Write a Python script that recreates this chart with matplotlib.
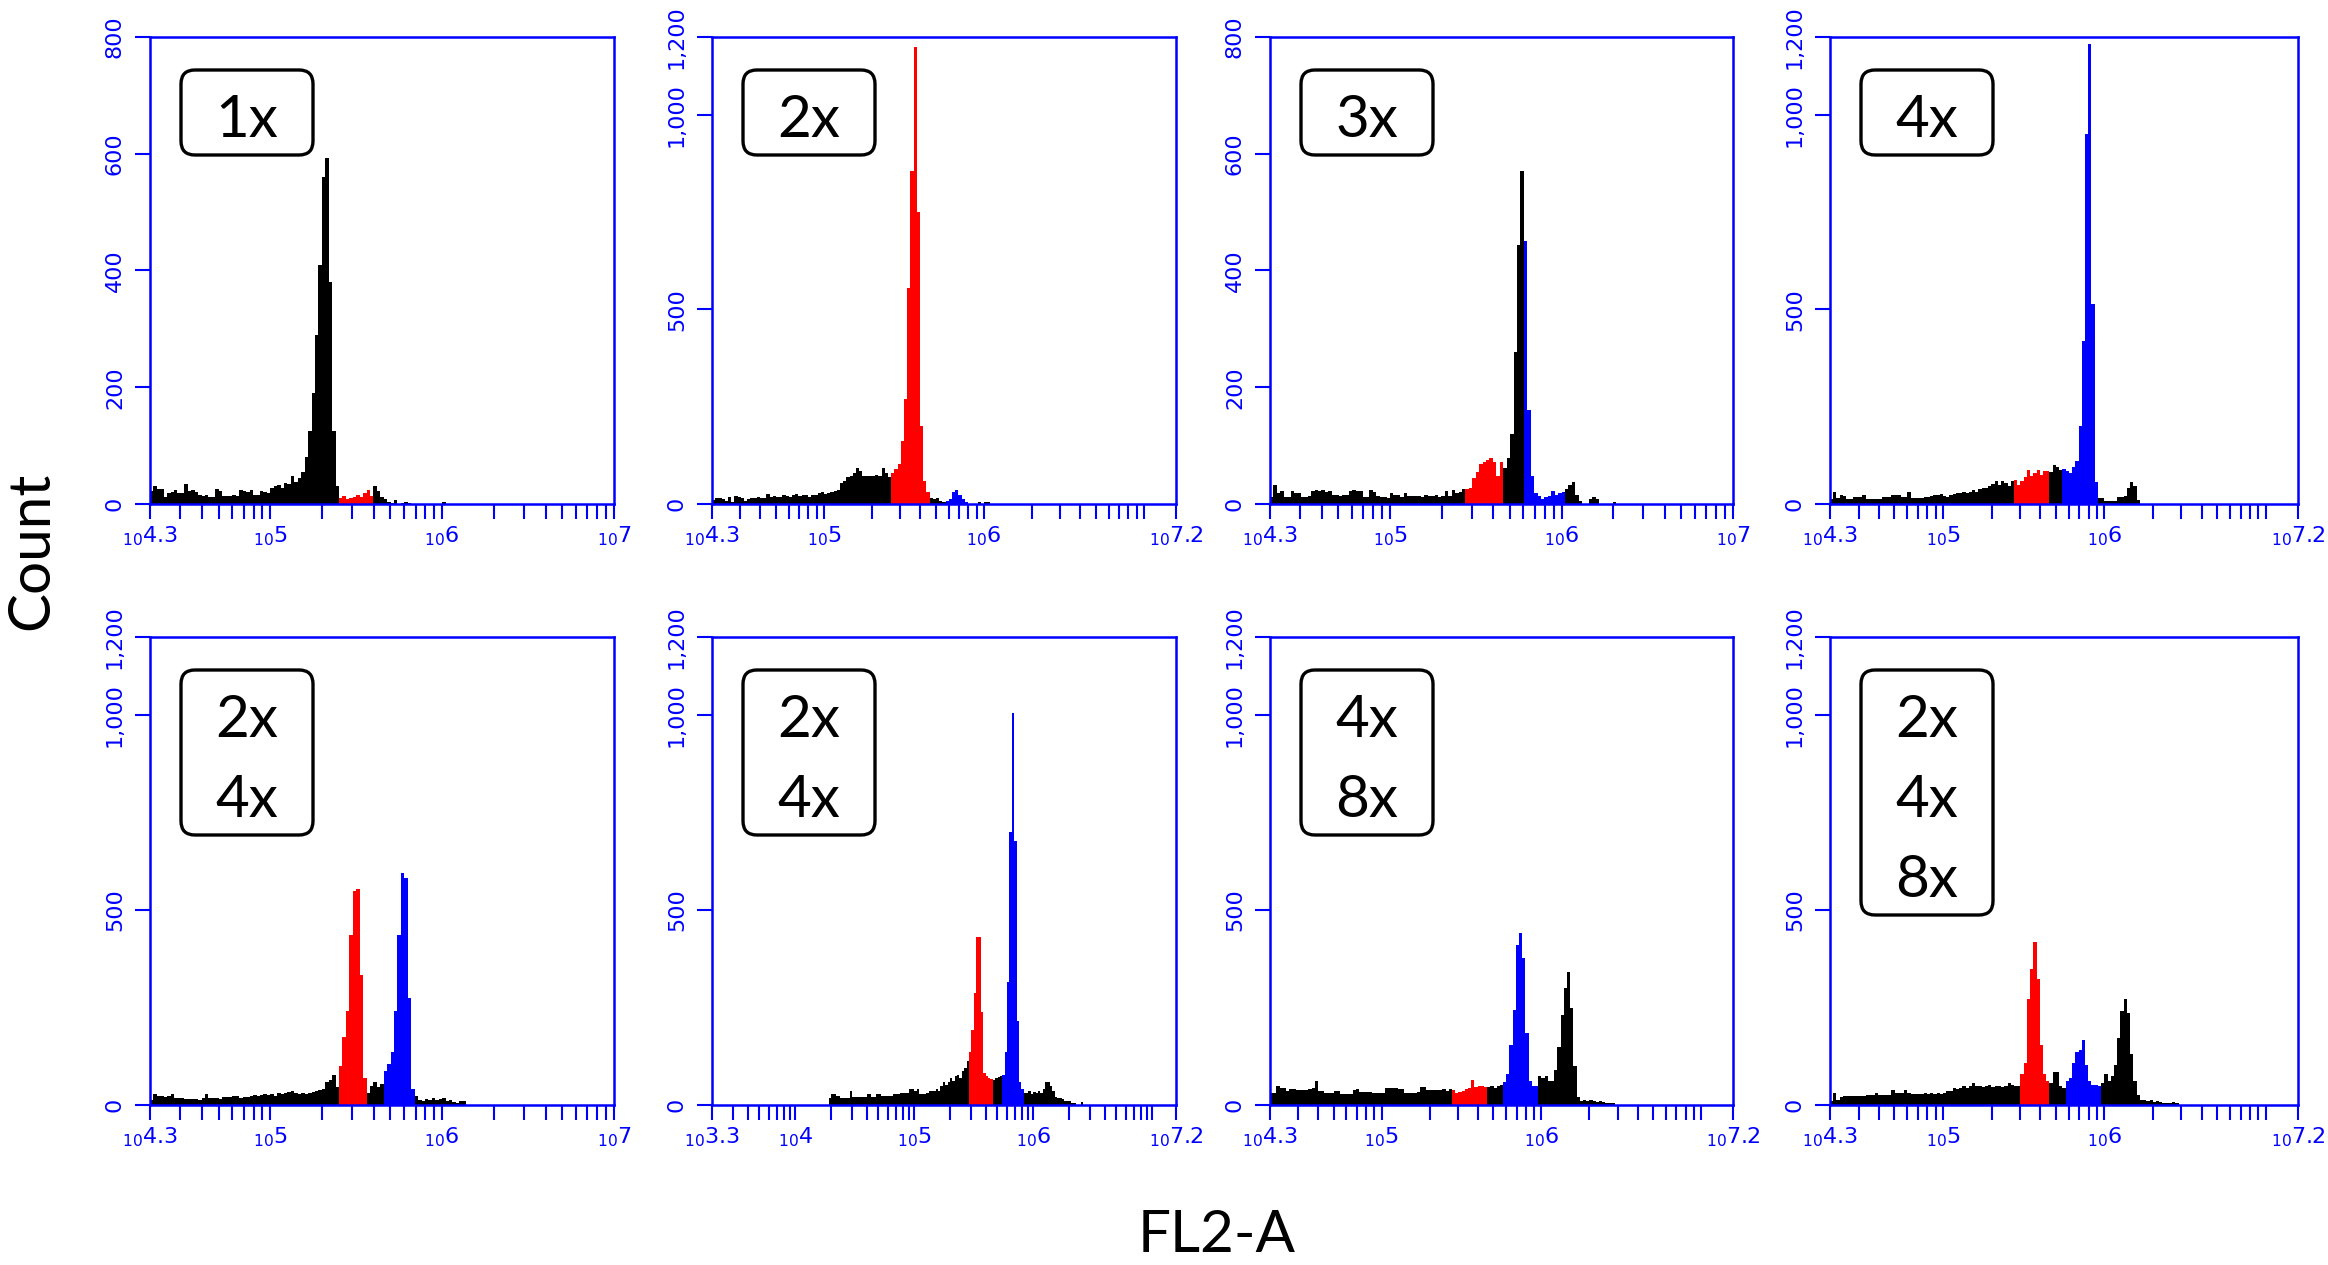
import numpy as np
import matplotlib.pyplot as plt
from matplotlib.patches import FancyBboxPatch
from matplotlib.ticker import NullFormatter

# ---------------- data: FL2-A histograms, counts per 0.02-decade channel ----------------
BIN = 0.02

panel_labels = [['1x'], ['2x'], ['3x'], ['4x'],
                ['2x', '4x'], ['2x', '4x'], ['4x', '8x'], ['2x', '4x', '8x']]
x_lo = [4.3, 4.3, 4.3, 4.3, 4.3, 3.3, 4.3, 4.3]
x_hi = [7.0, 7.2, 7.0, 7.2, 7.0, 7.2, 7.2, 7.2]
y_ticks = [[0, 200, 400, 600, 800], [0, 500, 1000, 1200],
           [0, 200, 400, 600, 800], [0, 500, 1000, 1200],
           [0, 500, 1000, 1200], [0, 500, 1000, 1200],
           [0, 500, 1000, 1200], [0, 500, 1000, 1200]]
first_bin = [4.30, 4.30, 4.30, 4.30, 4.30, 4.28, 4.30, 4.30]
# gates (log10 FL2-A) shown in red / blue
red_gate = [(5.40, 5.60), (5.42, 5.66), (5.44, 5.66), (5.44, 5.66),
            (5.40, 5.56), (5.46, 5.66), (5.44, 5.66), (5.48, 5.66)]
blue_gate = [None, (5.76, 5.90), (5.78, 6.02), (5.74, 5.96),
             (5.66, 5.84), (5.74, 5.92), (5.76, 5.98), (5.76, 5.98)]

counts_1x = [23, 30, 25, 26, 12, 18, 20, 24, 18, 18,
             35, 22, 24, 20, 16, 14, 15, 12, 12, 25,
             22, 14, 14, 14, 16, 14, 24, 22, 20, 24,
             16, 16, 22, 20, 18, 28, 30, 32, 28, 36,
             34, 48, 38, 45, 55, 80, 125, 190, 290, 410,
             560, 593, 380, 125, 30, 10, 14, 8, 10, 12,
             16, 12, 18, 24, 14, 30, 22, 12, 8, 4,
             2, 6, 0, 2, 4, 2, 0, 0, 0, 0,
             0, 0, 0, 0, 0, 4, 0]
counts_2x = [10, 16, 16, 12, 8, 18, 6, 20, 18, 16,
             8, 14, 16, 16, 18, 15, 16, 25, 18, 20,
             18, 18, 22, 20, 18, 22, 25, 20, 24, 22,
             18, 24, 22, 28, 30, 25, 28, 30, 34, 36,
             55, 58, 70, 72, 80, 92, 85, 73, 73, 73,
             73, 75, 73, 92, 80, 70, 80, 90, 104, 163,
             271, 556, 856, 1175, 750, 200, 60, 30, 16, 14,
             16, 8, 6, 8, 14, 30, 36, 24, 14, 6,
             0, 0, 0, 4, 0, 4, 4]
counts_3x = [12, 33, 18, 23, 12, 12, 23, 18, 18, 12,
             12, 14, 22, 24, 22, 24, 20, 22, 16, 16,
             14, 16, 16, 22, 24, 23, 22, 12, 12, 24,
             20, 14, 12, 12, 10, 18, 16, 16, 12, 18,
             14, 14, 14, 14, 12, 16, 14, 14, 16, 12,
             14, 22, 14, 24, 18, 20, 25, 25, 28, 45,
             55, 68, 72, 75, 78, 72, 48, 72, 62, 78,
             120, 260, 443, 570, 450, 161, 48, 18, 14, 9,
             12, 13, 22, 15, 18, 20, 25, 33, 38, 15,
             5, 0, 0, 8, 12, 8, 0, 0, 0, 0,
             4]
counts_4x = [13, 30, 16, 22, 20, 13, 13, 18, 18, 18,
             22, 13, 13, 13, 13, 13, 18, 18, 18, 22,
             22, 22, 18, 18, 30, 15, 15, 15, 15, 18,
             18, 20, 24, 22, 25, 20, 18, 22, 25, 28,
             27, 30, 28, 32, 35, 32, 38, 42, 40, 45,
             52, 58, 48, 60, 55, 47, 58, 62, 50, 60,
             70, 87, 72, 80, 88, 74, 86, 85, 82, 100,
             95, 87, 91, 85, 80, 94, 110, 200, 420, 950,
             1183, 514, 57, 15, 15, 8, 8, 8, 8, 18,
             18, 20, 42, 57, 47, 10]
counts_2x4x_a = [14, 29, 22, 23, 20, 24, 27, 18, 18, 18,
                 16, 16, 16, 16, 14, 18, 29, 18, 18, 18,
                 16, 20, 21, 20, 22, 24, 18, 21, 20, 22,
                 25, 24, 25, 27, 26, 28, 24, 30, 27, 32,
                 34, 36, 30, 28, 30, 27, 32, 34, 36, 38,
                 41, 60, 64, 78, 45, 100, 174, 242, 435, 549,
                 555, 334, 70, 32, 50, 60, 46, 55, 87, 105,
                 137, 242, 435, 595, 581, 275, 40, 23, 14, 10,
                 16, 14, 18, 12, 16, 18, 10, 14, 8, 4,
                 9, 9]
counts_2x4x_b = [18, 27, 27, 23, 23, 18, 18, 18, 18, 37,
                 21, 21, 21, 21, 21, 21, 27, 27, 21, 21,
                 27, 27, 23, 23, 23, 23, 23, 27, 27, 27,
                 32, 32, 32, 32, 41, 41, 36, 41, 27, 27,
                 27, 30, 37, 37, 37, 40, 35, 48, 60, 52,
                 60, 69, 62, 75, 78, 70, 87, 95, 114, 137,
                 192, 288, 430, 430, 238, 82, 75, 69, 66, 64,
                 70, 73, 75, 78, 137, 316, 700, 1006, 677, 215,
                 60, 41, 32, 30, 36, 28, 34, 30, 36, 32,
                 40, 60, 58, 50, 37, 20, 18, 18, 16, 9,
                 9, 9, 6, 6, 0, 0, 8]
counts_4x8x = [31, 31, 48, 43, 43, 37, 40, 40, 38, 38,
               38, 38, 40, 43, 61, 37, 35, 31, 31, 31,
               36, 37, 29, 29, 29, 29, 38, 40, 34, 34,
               34, 34, 31, 31, 31, 31, 43, 43, 43, 43,
               40, 40, 31, 31, 31, 31, 34, 46, 46, 38,
               38, 38, 38, 38, 40, 36, 42, 38, 32, 34,
               36, 40, 44, 64, 46, 50, 48, 46, 46, 48,
               44, 50, 52, 60, 80, 153, 244, 409, 441, 377,
               185, 61, 48, 48, 75, 70, 75, 62, 61, 90,
               150, 230, 300, 340, 250, 100, 20, 10, 12, 10,
               12, 10, 8, 10, 8, 6, 6, 6]
counts_2x4x8x = [11, 31, 13, 20, 22, 22, 22, 22, 22, 22,
                 22, 25, 25, 25, 31, 25, 25, 25, 25, 38,
                 31, 31, 31, 38, 31, 29, 29, 29, 29, 31,
                 29, 31, 29, 31, 29, 31, 37, 37, 43, 40,
                 43, 50, 43, 48, 57, 48, 50, 46, 48, 52,
                 46, 48, 50, 46, 48, 57, 52, 48, 50, 80,
                 107, 272, 350, 419, 323, 153, 80, 61, 57, 84,
                 84, 48, 43, 61, 70, 107, 135, 141, 167, 103,
                 61, 52, 52, 50, 57, 80, 61, 75, 103, 171,
                 240, 272, 236, 130, 61, 25, 13, 13, 10, 12,
                 8, 10, 8, 6, 6, 4, 8, 6]
all_counts = [counts_1x, counts_2x, counts_3x, counts_4x,
              counts_2x4x_a, counts_2x4x_b, counts_4x8x, counts_2x4x8x]

# ---------------- layout (pixels of the 2328x1265 output) ----------------
W, H = 2328, 1265
col_left = [150, 712, 1270, 1830]
col_right = [614, 1176, 1733, 2298]
row_top = [37, 637]
row_bottom = [504, 1105]

BLUE = '#0000ff'
gate_colors = {'k': '#000000', 'r': '#ff0000', 'b': '#0000ff'}

fig = plt.figure(figsize=(W / 100, H / 100), dpi=100)


def exp_label(e):
    return r'${}_{10}$' + f'{e:g}'


for i in range(8):
    r, c = divmod(i, 4)
    l, rr = col_left[c], col_right[c]
    t, b = row_top[r], row_bottom[r]
    ax = fig.add_axes([l / W, 1 - b / H, (rr - l) / W, (b - t) / H])
    wpx, hpx = rr - l, b - t

    # histogram, coloured by gate
    cnt = np.array(all_counts[i], dtype=float)
    e_edges = first_bin[i] + BIN * np.arange(len(cnt) + 1)
    edges = 10 ** e_edges
    left = e_edges[:-1] + 1e-6
    in_red = (left >= red_gate[i][0]) & (left < red_gate[i][1])
    in_blue = np.zeros_like(in_red)
    if blue_gate[i] is not None:
        in_blue = (left >= blue_gate[i][0]) & (left < blue_gate[i][1])
    in_black = ~(in_red | in_blue)
    for mask, col in [(in_black, 'k'), (in_red, 'r'), (in_blue, 'b')]:
        if mask.any():
            ax.stairs(np.where(mask, cnt, 0), edges, fill=True,
                      color=gate_colors[col], lw=0)

    ax.set_xscale('log')
    lo, hi = x_lo[i], x_hi[i]
    ax.set_xlim(10 ** lo, 10 ** hi)
    ax.set_ylim(0, y_ticks[i][-1])

    # x ticks: ends + whole decades labelled, the rest unlabelled
    major = [lo] + [k for k in range(int(np.ceil(lo)), int(np.floor(hi)) + 1)
                    if k - lo >= 0.3 and hi - k >= 0.3] + [hi]
    minor = []
    for k in range(int(np.floor(lo)), int(np.ceil(hi)) + 1):
        for m in range(1, 10):
            e = k + np.log10(m)
            if lo < e < hi and min(abs(e - j) for j in major) > 0.01:
                minor.append(e)
    ax.set_xticks([10 ** e for e in major])
    ax.set_xticklabels([exp_label(e) for e in major])
    ax.set_xticks([10 ** e for e in minor], minor=True)
    ax.xaxis.set_minor_formatter(NullFormatter())

    ax.set_yticks(y_ticks[i])
    ax.set_yticklabels([f'{v:,}' for v in y_ticks[i]], rotation=90, va='center')

    ax.tick_params(which='both', direction='out', length=11, width=1.5,
                   color=BLUE, labelcolor=BLUE, labelsize=16)
    ax.tick_params(axis='x', pad=4)
    ax.tick_params(axis='y', pad=7)
    for s in ax.spines.values():
        s.set_color(BLUE)
        s.set_linewidth(1.8)

    # rounded label box
    n = len(panel_labels[i])
    bx, bw = 31 / wpx, 132 / wpx
    btop = 1 - 33 / hpx
    bh = (85 + 80 * (n - 1)) / hpx
    ax.add_patch(FancyBboxPatch((bx, btop - bh), bw, bh,
                                boxstyle='round,pad=0,rounding_size=0.03',
                                transform=ax.transAxes, fc='white', ec='black',
                                lw=2.4, zorder=5))
    for j, s in enumerate(panel_labels[i]):
        ax.text(bx + bw / 2, btop - (67 + 80 * j) / hpx, s, transform=ax.transAxes,
                ha='center', va='baseline', fontsize=42, family='Lato', zorder=6)

fig.text(32 / W, 1 - 551 / H, 'Count', rotation=90, ha='center', va='center',
         fontsize=42, family='Lato')
fig.text(1217 / W, 1 - 1252 / H, 'FL2-A', ha='center', va='baseline',
         fontsize=42, family='Lato')

fig.savefig('out.png', dpi=100)
